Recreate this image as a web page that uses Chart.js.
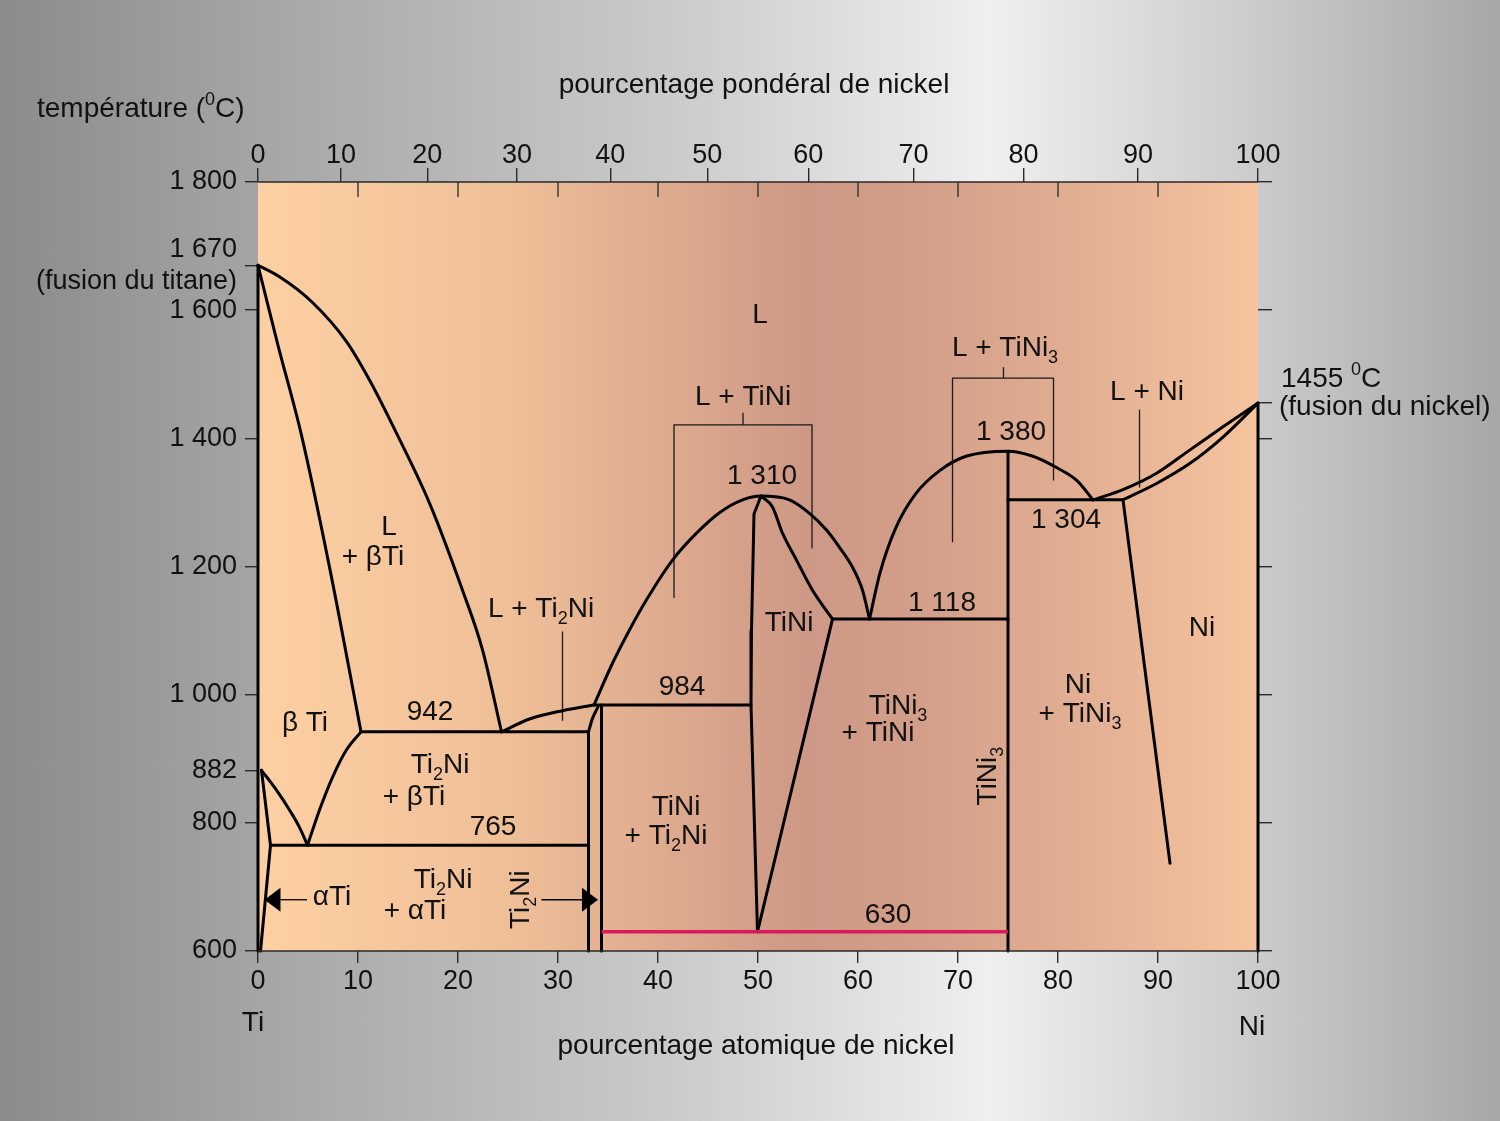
<!DOCTYPE html>
<html>
<head>
<meta charset="utf-8">
<script src="https://cdn.jsdelivr.net/npm/chart.js@4.4.1/dist/chart.umd.min.js"></script>
<style>
    html, body { margin: 0; padding: 0; }
    body {
        width: 1500px;
        height: 1121px;
        overflow: hidden;
        background: linear-gradient(to right, #8b8b8b 0%, #a9a9a9 20%, #cbcbcb 45%, #efefef 66%, #cfcfcf 82%, #a7a7a7 100%);
    }
    #wrap { position: relative; width: 1500px; height: 1121px; }
</style>
</head>
<body>
<div id="wrap"><canvas id="phase"></canvas></div>
<script>
// axes
const atTicks = [0, 10, 20, 30, 40, 50, 60, 70, 80, 90, 100];
const wtTicks = [0, 10, 20, 30, 40, 50, 60, 70, 80, 90, 100];
const yTicks = [600, 800, 882, 1000, 1200, 1400, 1600, 1670, 1800];
const yRightTicks = [600, 800, 1000, 1200, 1400, 1455, 1600, 1800];

// phase boundaries, [at% Ni, °C]
const tiAxis = [[0, 600], [0, 1670]];
const niAxis = [[100, 600], [100, 1455]];
const tiLiquidus = [[0, 1670], [2.15, 1652], [5.45, 1612], [8.85, 1551], [11.15, 1491], [13.85, 1408], [17.15, 1299], [20.45, 1163], [22.45, 1070], [24.35, 942]];
const betaSolidus = [[0, 1670], [2.0, 1545], [4.3, 1408], [7.15, 1199], [10.3, 942]];
const eutectic942 = [[10.3, 942], [33.05, 942]];
const betaTransusLeft = [[0.35, 882], [1.85, 851], [3.15, 820], [4.15, 793], [4.95, 765]];
const betaTransusRight = [[4.95, 765], [6.15, 820], [7.45, 871], [8.85, 914], [10.3, 942]];
const alphaSolvus = [[0.35, 882], [1.25, 765], [0.25, 600]];
const eutectoid765 = [[1.25, 765], [33.05, 765]];
const ti2NiLeft = [[33.05, 600], [33.05, 942]];
const ti2NiTop = [[33.05, 942], [33.45, 963], [34.0, 981]];
const ti2NiRight = [[34.35, 600], [34.35, 984]];
const ti2NiLiquidus = [[24.35, 942], [27.15, 962], [30.45, 975], [33.6, 984]];
const peritectic984 = [[33.6, 984], [49.3, 984]];
const tiNiLiquidus = [[33.6, 984], [35.45, 1049], [37.15, 1101], [38.85, 1148], [41.45, 1210], [43.85, 1252], [46.15, 1284], [48.45, 1304], [50.3, 1310],
    [53.15, 1304], [55.15, 1283], [56.85, 1257], [58.15, 1230], [59.45, 1199], [60.45, 1163], [61.15, 1118]];
const tiNiLeft = [[50.3, 1310], [49.6, 1282], [49.35, 1100], [49.3, 984], [49.95, 630]];
const tiNiSolidus = [[50.3, 1310], [51.45, 1293], [52.45, 1252], [53.85, 1210], [55.45, 1163], [57.45, 1118]];
const tiNiSolvus = [[57.45, 1118], [49.95, 630]];
const eutectic1118 = [[57.45, 1118], [75, 1118]];
const tiNi3Liquidus = [[61.15, 1118], [62.2, 1190], [63.8, 1261], [65.8, 1314], [68.2, 1350], [70.8, 1372], [75, 1380],
    [77.5, 1372], [79.9, 1354], [81.9, 1334], [83.5, 1304]];
const tiNi3Line = [[75, 600], [75, 1380]];
const eutectic1304 = [[75, 1304], [86.5, 1304]];
const niLiquidus = [[83.5, 1304], [86.5, 1320], [89.9, 1346], [93.2, 1382], [96.5, 1418], [100, 1455]];
const niSolidus = [[86.5, 1304], [89.9, 1330], [93.2, 1361], [96.5, 1402], [100, 1455]];
const niSolvus = [[86.5, 1304], [91.2, 737]];
const martensite630 = [[34.35, 630], [75, 630]];

// leader lines of the labels
const bracketTiNi = [[41.6, 1151], [41.6, 1421], [55.4, 1421], [55.4, 1229]];
const stemTiNi = [[48.5, 1421], [48.5, 1440]];
const bracketTiNi3 = [[69.45, 1238], [69.45, 1494], [79.55, 1494], [79.55, 1335]];
const stemTiNi3 = [[74.55, 1494], [74.55, 1511]];
const leaderNi = [[88.15, 1444], [88.15, 1324]];
const leaderTi2Ni = [[30.45, 1098], [30.45, 960]];
const arrows = [
    { from: [4.9, 680], to: [0.65, 680] },
    { from: [28.35, 680], to: [34.0, 680] },
];

const labels = [
    { t: "L", x: 50.2, y: 1592 },
    { t: "L + TiNi", x: 48.5, y: 1464 },
    { t: "L + TiNi_3", x: 74.7, y: 1541 },
    { t: "L + Ni", x: 88.9, y: 1472 },
    { t: "1 380", x: 75.3, y: 1410 },
    { t: "1 310", x: 50.4, y: 1341 },
    { t: "1 304", x: 80.8, y: 1272 },
    { t: "L", x: 13.1, y: 1261 },
    { t: "+ βTi", x: 11.5, y: 1215 },
    { t: "L + Ti_2Ni", x: 28.3, y: 1134 },
    { t: "TiNi", x: 53.1, y: 1112 },
    { t: "1 118", x: 68.4, y: 1143 },
    { t: "Ni", x: 94.4, y: 1104 },
    { t: "984", x: 42.4, y: 1012 },
    { t: "β Ti", x: 4.7, y: 956 },
    { t: "942", x: 17.2, y: 973 },
    { t: "TiNi_3", x: 64.0, y: 982 },
    { t: "+ TiNi", x: 62.0, y: 940 },
    { t: "Ni", x: 82.0, y: 1015 },
    { t: "+ TiNi_3", x: 82.2, y: 970 },
    { t: "Ti_2Ni", x: 18.2, y: 890 },
    { t: "+ βTi", x: 15.6, y: 840 },
    { t: "TiNi_3", x: 73.0, y: 873, rot: true },
    { t: "TiNi", x: 41.8, y: 825 },
    { t: "+ Ti_2Ni", x: 40.8, y: 779 },
    { t: "765", x: 23.5, y: 793 },
    { t: "αTi", x: 7.4, y: 684 },
    { t: "Ti_2Ni", x: 18.5, y: 711 },
    { t: "+ αTi", x: 15.7, y: 662 },
    { t: "Ti_2Ni", x: 26.3, y: 680, rot: true },
    { t: "630", x: 63.0, y: 655 },
];

const FONT = "'Liberation Sans', Arial, sans-serif";
const SIZE = 28;

// weight % -> atomic % of nickel
function wtToAt(w) {
    const ni = w / 58.69, ti = (100 - w) / 47.87;
    return 100 * ni / (ni + ti);
}

function fmt(v) {
    return v >= 1000 ? "1 " + String(v).slice(1) : String(v);
}

// text with _x subscripts and ^x superscripts
function richText(ctx, str, x, y, size, align) {
    const segs = [];
    for (let i = 0; i < str.length; i++) {
        const c = str[i];
        if ((c === "_" || c === "^") && i + 1 < str.length) {
            segs.push({ t: str[i + 1], k: c });
            i++;
        } else if (segs.length && segs[segs.length - 1].k === "n") {
            segs[segs.length - 1].t += c;
        } else {
            segs.push({ t: c, k: "n" });
        }
    }
    const small = Math.round(size * 0.66);
    let w = 0;
    segs.forEach((s) => {
        ctx.font = (s.k === "n" ? size : small) + "px " + FONT;
        s.w = ctx.measureText(s.t).width;
        w += s.w;
    });
    let cx = align === "left" ? x : align === "right" ? x - w : x - w / 2;
    ctx.textAlign = "left";
    ctx.textBaseline = "middle";
    segs.forEach((s) => {
        ctx.font = (s.k === "n" ? size : small) + "px " + FONT;
        const dy = s.k === "_" ? size * 0.36 : s.k === "^" ? -size * 0.32 : 0;
        ctx.fillText(s.t, cx, y + dy);
        cx += s.w;
    });
}

function line(points, opts) {
    return Object.assign({
        data: points.map((p) => ({ x: p[0], y: p[1] })),
        showLine: true,
        pointRadius: 0,
        borderColor: "#000",
        borderWidth: 3,
        tension: 0,
        fill: false,
        clip: false,
        borderCapStyle: "round",
        borderJoinStyle: "round",
    }, opts || {});
}

const curve = { cubicInterpolationMode: "monotone" };
const thin = { borderWidth: 1.3, borderColor: "#1a1a1a", borderCapStyle: "butt" };

const datasets = [
    line(martensite630, { borderColor: "#d81b5e", borderWidth: 3.5, borderCapStyle: "butt" }),
    line(tiAxis),
    line(niAxis),
    line(tiLiquidus, curve),
    line(betaSolidus, curve),
    line(eutectic942),
    line(betaTransusLeft, curve),
    line(betaTransusRight, curve),
    line(alphaSolvus),
    line(eutectoid765),
    line(ti2NiLeft),
    line(ti2NiTop, curve),
    line(ti2NiRight),
    line(ti2NiLiquidus, curve),
    line(peritectic984),
    line(tiNiLiquidus, curve),
    line(tiNiLeft),
    line(tiNiSolidus, curve),
    line(tiNiSolvus),
    line(eutectic1118),
    line(tiNi3Liquidus, curve),
    line(tiNi3Line),
    line(eutectic1304),
    line(niLiquidus, curve),
    line(niSolidus, curve),
    line(niSolvus),
    line(bracketTiNi, thin),
    line(stemTiNi, thin),
    line(bracketTiNi3, thin),
    line(stemTiNi3, thin),
    line(leaderNi, thin),
    line(leaderTi2Ni, thin),
];

// plot background and annotations
const decor = {
    id: "decor",
    beforeDraw(chart) {
        const { ctx, chartArea: a } = chart;
        const g = ctx.createLinearGradient(a.left, 0, a.right, 0);
        g.addColorStop(0, "#fdd0a3");
        g.addColorStop(0.25, "#efbf98");
        g.addColorStop(0.45, "#d9a58c");
        g.addColorStop(0.55, "#cd9885");
        g.addColorStop(0.68, "#d4a08a");
        g.addColorStop(0.85, "#e5b295");
        g.addColorStop(1, "#f6c49e");
        ctx.save();
        ctx.fillStyle = g;
        ctx.fillRect(a.left, a.top, a.right - a.left, a.bottom - a.top);
        ctx.restore();
    },
    afterDatasetsDraw(chart) {
        const { ctx, chartArea: a } = chart;
        const x = chart.scales.x, y = chart.scales.y;
        ctx.save();
        // frame lines top and bottom
        ctx.strokeStyle = "#2a2a2a";
        ctx.lineWidth = 1.5;
        ctx.beginPath();
        ctx.moveTo(a.left, a.top); ctx.lineTo(a.right, a.top);
        ctx.moveTo(a.left, a.bottom); ctx.lineTo(a.right, a.bottom);
        ctx.stroke();
        // inner ticks of the atomic scale on top
        ctx.lineWidth = 1.3;
        ctx.beginPath();
        atTicks.slice(1, -1).forEach((v) => {
            const px = x.getPixelForValue(v);
            ctx.moveTo(px, a.top); ctx.lineTo(px, a.top + 15);
        });
        ctx.stroke();
        // arrows
        ctx.fillStyle = "#000";
        ctx.strokeStyle = "#000";
        arrows.forEach((ar) => {
            const x0 = x.getPixelForValue(ar.from[0]), y0 = y.getPixelForValue(ar.from[1]);
            const x1 = x.getPixelForValue(ar.to[0]), y1 = y.getPixelForValue(ar.to[1]);
            const dir = Math.sign(x1 - x0);
            const base = x1 - dir * 16;
            ctx.lineWidth = 1.3;
            ctx.beginPath();
            ctx.moveTo(x0, y0); ctx.lineTo(base, y1);
            ctx.stroke();
            ctx.beginPath();
            ctx.moveTo(x1, y1);
            ctx.lineTo(base, y1 - 12);
            ctx.lineTo(base, y1 + 12);
            ctx.closePath();
            ctx.fill();
        });
        // region labels
        ctx.fillStyle = "#111";
        labels.forEach((l) => {
            const px = x.getPixelForValue(l.x), py = y.getPixelForValue(l.y);
            if (l.rot) {
                ctx.save();
                ctx.translate(px, py);
                ctx.rotate(-Math.PI / 2);
                richText(ctx, l.t, 0, 0, SIZE, "center");
                ctx.restore();
            } else {
                richText(ctx, l.t, px, py, SIZE, "center");
            }
        });
        // titles
        const mid = (a.left + a.right) / 2;
        richText(ctx, "pourcentage pondéral de nickel", mid - 4, 85, SIZE, "center");
        richText(ctx, "pourcentage atomique de nickel", mid - 2, 1046, SIZE, "center");
        richText(ctx, "température (^0C)", 37, 109, SIZE, "left");
        richText(ctx, "Ti", x.getPixelForValue(0) - 5, 1023, SIZE, "center");
        richText(ctx, "Ni", x.getPixelForValue(100) - 6, 1027, SIZE, "center");
        const yNi = y.getPixelForValue(1455);
        richText(ctx, "1455 ^0C", a.right + 23, yNi - 24, SIZE, "left");
        richText(ctx, "(fusion du nickel)", a.right + 21, yNi + 4, SIZE, "left");
        ctx.restore();
    },
};

const tickFont = { family: FONT, size: 27 };
const gridOpts = (len) => ({ drawOnChartArea: false, drawTicks: true, tickLength: len, color: "#2a2a2a", lineWidth: 1.4 });

new Chart(document.getElementById("phase"), {
    type: "scatter",
    data: { datasets: datasets },
    options: {
        responsive: true,
        maintainAspectRatio: false,
        animation: false,
        layout: { padding: 0 },
        plugins: { legend: { display: false }, tooltip: { enabled: false } },
        scales: {
            x: {
                type: "linear", position: "bottom", min: 0, max: 100,
                afterBuildTicks: (s) => { s.ticks = atTicks.map((v) => ({ value: v })); },
                ticks: { font: tickFont, color: "#111", padding: 2, maxRotation: 0, autoSkip: false },
                grid: gridOpts(12),
                border: { display: false },
                afterFit: (s) => { s.height = 170; },
            },
            xTop: {
                type: "linear", position: "top", min: 0, max: 100,
                afterBuildTicks: (s) => { s.ticks = wtTicks.map((w) => ({ value: wtToAt(w) })); },
                ticks: { font: tickFont, color: "#111", padding: -4, maxRotation: 0, autoSkip: false,
                    callback: (v, i) => String(wtTicks[i]) },
                grid: gridOpts(14),
                border: { display: false },
                afterFit: (s) => { s.height = 182; },
            },
            y: {
                type: "linear", position: "left", min: 600, max: 1800,
                afterBuildTicks: (s) => { s.ticks = yTicks.map((v) => ({ value: v })); },
                ticks: { font: tickFont, color: "#111", padding: 8, autoSkip: false,
                    callback: (v) => v === 1670 ? ["1 670", "(fusion du titane)"] : fmt(v) },
                grid: gridOpts(13),
                border: { display: false },
                afterFit: (s) => { s.width = 258; },
            },
            yRight: {
                type: "linear", position: "right", min: 600, max: 1800,
                afterBuildTicks: (s) => { s.ticks = yRightTicks.map((v) => ({ value: v })); },
                ticks: { display: false },
                grid: gridOpts(14),
                border: { display: false },
                afterFit: (s) => { s.width = 242; },
            },
        },
    },
    plugins: [decor],
});
</script>
</body>
</html>
